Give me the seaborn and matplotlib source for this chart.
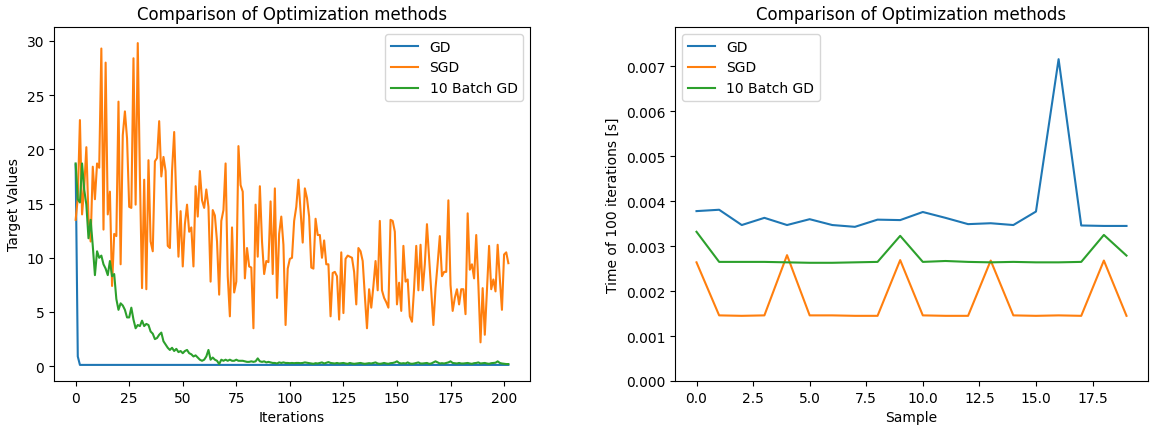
import numpy as np
import pandas as pd
import matplotlib
matplotlib.use("Agg")
import matplotlib.pyplot as plt
import seaborn as sns

# ---------------- Left panel data (target values per iteration) ----------------
gd_target = [18.6, 0.9] + [0.12] * 201

sgd_target = [
    13.5, 15.5, 22.7, 14.0, 16.5, 20.2, 13.7, 11.5, 18.4, 15.4, 18.7, 18.3, 29.3, 12.6, 28.0,
    14.0, 16.1, 7.4, 12.2, 12.0, 24.4, 9.4, 21.3, 23.5, 21.0, 14.7, 14.6, 28.4, 14.9,
    29.8, 17.5, 7.2, 17.2, 7.1, 19.0, 11.5, 10.6, 18.9, 19.2, 22.6, 17.5, 19.3, 18.0, 11.1,
    10.9, 18.0, 21.6, 15.3, 10.1, 14.3, 9.2, 13.1, 14.9, 12.4, 12.8, 9.2, 16.6, 13.8, 18.0,
    15.3, 14.6, 16.3, 14.7, 7.8, 14.4,
    13.9, 11.5, 6.6, 13.4, 14.4, 18.7, 8.3, 4.6, 12.8, 6.8, 7.8, 20.3, 16.7, 16.1, 8.1,
    10.9, 9.2, 9.1, 3.5, 14.9, 10.1, 16.6, 11.5, 8.5, 9.7, 9.6, 15.2, 8.5, 16.4, 6.3, 12.2,
    13.8, 11.2,
    3.8, 9.0, 9.9, 10.0, 13.4, 14.7, 17.2, 14.3, 11.4, 16.4, 15.5, 13.8, 9.1, 9.0, 13.6,
    12.1, 12.1, 10.0, 11.6, 9.4, 9.4, 4.6, 8.6, 8.7, 8.3, 4.3, 10.5, 4.9, 9.9, 10.2, 10.1,
    10.0, 8.7, 5.7, 10.9, 10.6, 9.7,
    6.5,
    3.5, 7.1, 5.4, 7.4, 9.7, 7.0, 13.4, 7.0, 6.3, 5.9, 5.4, 13.5, 13.4, 12.4, 5.7, 7.7, 5.1,
    11.1, 7.8, 8.0, 4.6, 4.1, 7.2, 11.1, 7.0, 11.2, 7.0, 9.4, 13.1, 10.0, 7.0, 3.8, 7.2,
    9.5,
    12.0, 8.3, 8.7, 8.7, 15.3, 7.5, 5.1, 6.3, 7.1, 5.7, 7.1, 7.1, 4.8, 14.1, 8.9, 9.4, 8.1,
    12.1, 7.5, 2.2, 7.2, 2.9, 6.9, 11.1, 7.1, 8.0, 6.9, 11.2, 8.1, 5.2, 10.3, 10.5, 9.5,
]

batch_target = [
    18.7, 15.4, 15.1, 18.7, 16.3, 14.9, 11.8, 13.5, 11.1, 8.4, 10.6, 10.0, 10.2, 9.4, 9.0,
    8.4, 9.7, 8.3, 8.5, 6.2, 5.2, 5.8, 5.6, 5.2, 4.5, 4.5, 5.4, 4.3, 3.5, 3.8, 3.7, 4.2,
    3.7, 3.9, 3.8, 3.2, 3.0, 2.5, 2.6, 2.9,
    3.1, 2.3, 2.0, 1.7, 1.5, 1.7, 1.4, 1.6, 1.3, 1.4, 1.2, 1.4, 1.5, 1.2, 1.1, 0.9, 1.0,
    0.8, 0.6, 0.5, 0.6, 0.9, 1.5, 0.6, 0.8, 0.6, 0.5, 0.2, 0.6, 0.5, 0.6, 0.5, 0.6, 0.5,
    0.5, 0.6, 0.5, 0.5,
    0.5, 0.45, 0.4, 0.4, 0.45, 0.4, 0.45, 0.72, 0.45, 0.4, 0.45, 0.35,
    0.4, 0.35, 0.3, 0.3, 0.25, 0.35, 0.3, 0.35, 0.3, 0.3, 0.28, 0.3,
    0.28, 0.3, 0.3, 0.28, 0.3, 0.35, 0.32, 0.3, 0.25, 0.22, 0.28, 0.25,
    0.3, 0.35, 0.25, 0.32, 0.38, 0.3, 0.28, 0.25, 0.3, 0.25, 0.28, 0.3,
    0.25, 0.22, 0.3, 0.25, 0.22, 0.25, 0.28, 0.3, 0.25, 0.22, 0.25, 0.28,
    0.25, 0.3, 0.35, 0.25, 0.22, 0.25, 0.3, 0.25, 0.22, 0.28, 0.3, 0.35,
    0.45, 0.3, 0.25, 0.28, 0.25, 0.35, 0.25, 0.22, 0.25, 0.3, 0.35, 0.25,
    0.25, 0.28, 0.3, 0.22, 0.25, 0.35, 0.45, 0.35, 0.25, 0.28, 0.25, 0.3,
    0.35, 0.45, 0.3, 0.28, 0.25, 0.3, 0.25, 0.25, 0.28, 0.3, 0.25, 0.22,
    0.28, 0.3, 0.35, 0.25, 0.28, 0.3, 0.25, 0.22, 0.28, 0.3, 0.32, 0.45,
    0.3, 0.25, 0.22, 0.2, 0.2,
]

# ---------------- Right panel data (time of 100 iterations) ----------------
gd_time = [0.00378, 0.00381, 0.00347, 0.00363, 0.00347, 0.00360, 0.00347, 0.00343, 0.00359,
           0.00358, 0.00376, 0.00363, 0.00349, 0.00351, 0.00347, 0.00377, 0.00716, 0.00346,
           0.00345, 0.00345]
sgd_time = [0.00264, 0.00146, 0.00145, 0.00146, 0.00280, 0.00146, 0.00146, 0.00145, 0.00145,
            0.00269, 0.00146, 0.00145, 0.00145, 0.00268, 0.00146, 0.00145, 0.00146, 0.00145,
            0.00268, 0.00145]
batch_time = [0.00332, 0.00265, 0.00265, 0.00265, 0.00264, 0.00263, 0.00263, 0.00264, 0.00265,
              0.00323, 0.00265, 0.00267, 0.00265, 0.00264, 0.00265, 0.00264, 0.00264, 0.00265,
              0.00325, 0.00279]

labels = ["GD", "SGD", "10 Batch GD"]
colors = ["#1f77b4", "#ff7f0e", "#2ca02c"]

plt.rcParams["font.family"] = ["DejaVu Sans"]

W, H = 1152, 427
fig = plt.figure(figsize=(W / 100, H / 100), dpi=100)
ax1 = fig.add_axes([54 / W, (H - 382) / H, (530 - 54) / W, (382 - 28) / H])
ax2 = fig.add_axes([675 / W, (H - 382) / H, (1148 - 675) / W, (382 - 28) / H])

left_series = [gd_target, sgd_target, batch_target]
for vals, lab, col in zip(left_series, labels, colors):
    df = pd.DataFrame({"x": np.arange(len(vals)), "y": vals})
    sns.lineplot(data=df, x="x", y="y", ax=ax1, color=col, label=lab, linewidth=1.5)

right_series = [gd_time, sgd_time, batch_time]
for vals, lab, col in zip(right_series, labels, colors):
    df = pd.DataFrame({"x": np.arange(len(vals)), "y": vals})
    sns.lineplot(data=df, x="x", y="y", ax=ax2, color=col, label=lab, linewidth=1.5)

ax1.set_title("Comparison of Optimization methods", fontsize=12)
ax1.set_xlabel("Iterations", fontsize=10)
ax1.set_ylabel("Target Values", fontsize=10)
ax1.set_xticks([0, 25, 50, 75, 100, 125, 150, 175, 200])
ax1.set_yticks([0, 5, 10, 15, 20, 25, 30])
ax1.legend(loc="upper right", fontsize=10)

ax2.set_title("Comparison of Optimization methods", fontsize=12)
ax2.set_xlabel("Sample", fontsize=10)
ax2.set_ylabel("Time of 100 iterations [s]", fontsize=10)
ax2.set_ylim(0, max(gd_time) * 1.1)
ax2.set_xticks([0, 2.5, 5, 7.5, 10, 12.5, 15, 17.5])
ax2.set_xticklabels(["0.0", "2.5", "5.0", "7.5", "10.0", "12.5", "15.0", "17.5"])
ax2.yaxis.set_major_formatter(matplotlib.ticker.FormatStrFormatter("%.3f"))
ax2.legend(loc="upper left", fontsize=10)

for ax in (ax1, ax2):
    ax.tick_params(labelsize=10)

fig.savefig("out.png", dpi=100)
